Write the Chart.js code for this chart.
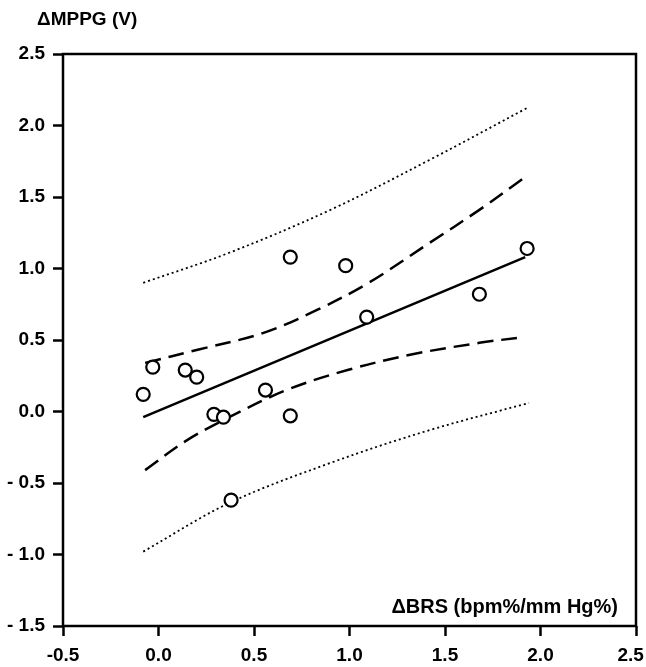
<!DOCTYPE html>
<html>
<head>
<meta charset="utf-8">
<script src="https://cdn.jsdelivr.net/npm/chart.js@4.4.0/dist/chart.umd.min.js"></script>
<style>
  html, body { margin: 0; padding: 0; background: #fff; }
  #wrap { width: 646px; height: 667px; }
</style>
</head>
<body>
<div id="wrap"><canvas id="chart" width="646" height="667"></canvas></div>
<script>
// observed points
const xPoints = [-0.08, -0.03, 0.14, 0.20, 0.29, 0.34, 0.56, 0.69, 0.38, 1.09, 1.68, 0.69, 0.98, 1.93];
const yPoints = [0.12, 0.31, 0.29, 0.24, -0.02, -0.04, 0.15, -0.03, -0.62, 0.66, 0.82, 1.08, 1.02, 1.14];

// regression line (end points)
const fitX = [-0.08, 1.92];
const fitY = [-0.04, 1.08];

// confidence band (dashed)
const ciUpperX = [-0.07, 0.20, 0.55, 0.83, 1.10, 1.42, 1.68, 1.91];
const ciUpperY = [0.34, 0.43, 0.55, 0.71, 0.90, 1.18, 1.41, 1.63];
const ciLowerX = [-0.07, 0.15, 0.37, 0.67, 0.99, 1.33, 1.68, 1.91];
const ciLowerY = [-0.41, -0.20, -0.04, 0.15, 0.29, 0.40, 0.48, 0.52];

// prediction band (dotted)
const piX = [-0.08, 0.37, 0.90, 1.42, 1.94];
const piUpperY = [0.90, 1.11, 1.41, 1.76, 2.13];
const piLowerY = [-0.98, -0.64, -0.36, -0.13, 0.06];

const xTicks = [-0.5, 0.0, 0.5, 1.0, 1.5, 2.0, 2.5];
const yTicks = [-1.5, -1.0, -0.5, 0.0, 0.5, 1.0, 1.5, 2.0, 2.5];

const FONT = "'Liberation Sans', Arial, sans-serif";

const toXY = (xs, ys) => xs.map((x, i) => ({ x: x, y: ys[i] }));

const lineSet = (xs, ys, dash, width) => ({
  data: toXY(xs, ys),
  showLine: true,
  pointRadius: 0,
  borderColor: "#000",
  borderWidth: width,
  borderDash: dash,
  tension: 0.35,
  fill: false
});

// frame + axis titles
const framePlugin = {
  id: "frame",
  afterDraw(chart) {
    const { ctx, chartArea } = chart;
    ctx.save();
    ctx.strokeStyle = "#000";
    ctx.lineWidth = 2.5;
    ctx.strokeRect(chartArea.left, chartArea.top, chartArea.right - chartArea.left, chartArea.bottom - chartArea.top);
    ctx.fillStyle = "#000";
    ctx.textBaseline = "middle";
    ctx.textAlign = "left";
    ctx.font = "bold 19px " + FONT;
    ctx.fillText("\u0394MPPG (V)", 37, 20);
    ctx.textAlign = "right";
    ctx.font = "bold 20px " + FONT;
    ctx.fillText("\u0394BRS (bpm%/mm Hg%)", 618, 607);
    ctx.restore();
  }
};

const chartCanvas = document.getElementById("chart").getContext("2d");
const myChart = new Chart(chartCanvas, {
  type: "scatter",
  data: {
    datasets: [
      {
        data: toXY(xPoints, yPoints),
        pointRadius: 6.5,
        pointHoverRadius: 6.5,
        pointBorderWidth: 2.2,
        pointBorderColor: "#000",
        pointBackgroundColor: "#fff"
      },
      lineSet(fitX, fitY, [], 2.5),
      lineSet(ciUpperX, ciUpperY, [16, 8], 2.5),
      lineSet(ciLowerX, ciLowerY, [16, 8], 2.5),
      lineSet(piX, piUpperY, [2, 3], 1.8),
      lineSet(piX, piLowerY, [2, 3], 1.8)
    ]
  },
  options: {
    responsive: false,
    animation: false,
    events: [],
    layout: { padding: { top: 54, right: 10, left: 0, bottom: 0 } },
    plugins: { legend: { display: false }, tooltip: { enabled: false } },
    scales: {
      x: {
        type: "linear",
        min: -0.5,
        max: 2.5,
        afterBuildTicks: (scale) => { scale.ticks = xTicks.map(v => ({ value: v })); },
        afterFit: (scale) => {
          scale.height = 41;
          // keep the plot box fixed even though the end labels stick out
          scale.paddingLeft = 0;
          scale.paddingRight = 0;
        },
        grid: { drawOnChartArea: false, drawTicks: true, tickLength: 10, tickWidth: 2.5, tickColor: "#000" },
        border: { display: false },
        ticks: {
          color: "#000",
          padding: 8,
          maxRotation: 0,
          font: { family: FONT, size: 19, weight: "bold" },
          // trailing spaces nudge the last label inside the canvas
          callback: (v) => (v === 2.5 ? v.toFixed(1) + "  " : v.toFixed(1))
        }
      },
      y: {
        type: "linear",
        min: -1.5,
        max: 2.5,
        afterBuildTicks: (scale) => { scale.ticks = yTicks.map(v => ({ value: v })); },
        afterFit: (scale) => { scale.width = 63; },
        grid: { drawOnChartArea: false, drawTicks: true, tickLength: 10, tickWidth: 2.5, tickColor: "#000" },
        border: { display: false },
        ticks: {
          color: "#000",
          padding: 8,
          font: { family: FONT, size: 19, weight: "bold" },
          callback: (v) => (v < 0 ? "- " + Math.abs(v).toFixed(1) : v.toFixed(1))
        }
      }
    }
  },
  plugins: [framePlugin]
});
</script>
</body>
</html>
